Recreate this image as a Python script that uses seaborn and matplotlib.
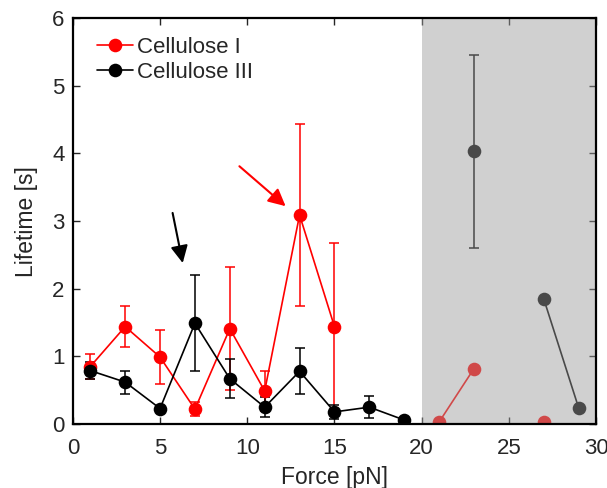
import numpy as np
import pandas as pd
import matplotlib
matplotlib.use("Agg")
import matplotlib.pyplot as plt
import seaborn as sns

# Lifetime vs force, two cellulose allomorphs (NaN = no measurement)
force = [1, 3, 5, 7, 9, 11, 13, 15, 17, 19, 21, 23, 25, 27, 29]
cell1_life = [0.85, 1.44, 0.99, 0.22, 1.41, 0.49, 3.09, 1.44, np.nan, np.nan, 0.03, 0.82, np.nan, 0.03, np.nan]
cell1_err = [0.18, 0.30, 0.40, 0.10, 0.91, 0.30, 1.35, 1.24, np.nan, np.nan, 0.0, 0.0, np.nan, 0.0, np.nan]
cell3_life = [0.79, 0.62, 0.23, 1.49, 0.67, 0.25, 0.78, 0.18, 0.25, 0.06, np.nan, 4.03, np.nan, 1.85, 0.24]
cell3_err = [0.12, 0.17, 0.0, 0.71, 0.29, 0.15, 0.34, 0.10, 0.16, 0.0, np.nan, 1.43, np.nan, 0.0, 0.0]
series_names = ["Cellulose I", "Cellulose III"]
series_colors = ["#ff0000", "#000000"]
shade_start, shade_end = 20, 30

sns.set_style("ticks")
plt.rcParams["font.family"] = ["Liberation Sans", "DejaVu Sans"]

def to_frame(name, life, err):
    rows = []
    seg = 0
    prev_nan = True
    for f, v, e in zip(force, life, err):
        if np.isnan(v):
            prev_nan = True
            continue
        if prev_nan:
            seg += 1
        prev_nan = False
        rows.append(dict(force=f, lifetime=v, err=e, series=name, seg=f"{name}-{seg}"))
    return pd.DataFrame(rows)

df = pd.concat([to_frame(series_names[0], cell1_life, cell1_err),
                to_frame(series_names[1], cell3_life, cell3_err)], ignore_index=True)

fig = plt.figure(figsize=(6.07, 4.88), dpi=100)
ax = fig.add_axes([0.120, 0.131, 0.862, 0.832])

palette = dict(zip(series_names, series_colors))

# error bars first, lines and markers on top
for name in series_names:
    sub = df[(df.series == name) & (df.err > 0)]
    ax.errorbar(sub.force, sub.lifetime, yerr=sub.err, fmt="none",
                ecolor=palette[name], elinewidth=1.1, capsize=3.8, capthick=1.1, zorder=2)

sns.lineplot(data=df, x="force", y="lifetime", hue="series", units="seg",
             estimator=None, palette=palette, marker="o", markersize=9.8,
             markeredgewidth=0, linewidth=1.2, ax=ax, zorder=3, sort=True)

# shaded region of unreliable measurements
ax.axvspan(shade_start, shade_end, facecolor=(0.61, 0.61, 0.61), alpha=0.475,
           edgecolor="none", zorder=5)

# arrows highlighting peaks
ax.annotate("", xy=(12.2, 3.22), xytext=(9.55, 3.81),
            arrowprops=dict(arrowstyle="-|>", color="#ff0000", lw=1.5, mutation_scale=26,
                            shrinkA=0, shrinkB=0))
ax.annotate("", xy=(6.3, 2.38), xytext=(5.72, 3.12),
            arrowprops=dict(arrowstyle="-|>", color="#000000", lw=1.5, mutation_scale=26,
                            shrinkA=0, shrinkB=0))

ax.set_xlim(0, 30)
ax.set_ylim(0, 6)
ax.set_xticks(range(0, 31, 5))
ax.set_yticks(range(0, 7))
ax.set_xlabel("Force [pN]", fontsize=16.5, color="#262626", labelpad=5)
ax.set_ylabel("Lifetime [s]", fontsize=16.5, color="#262626", labelpad=10)
ax.tick_params(axis="both", direction="in", length=5, width=1, top=True, right=True,
               labelsize=16, labelcolor="#262626")
ax.tick_params(axis="x", pad=10)
ax.tick_params(axis="y", pad=6)
for sp in ax.spines.values():
    sp.set_visible(True)
    sp.set_linewidth(1.6)
    sp.set_color("black")
    sp.set_zorder(6)

leg = ax.legend(loc="upper left", frameon=False, fontsize=16, handlelength=1.6,
                handletextpad=0.2, labelspacing=0.16, borderaxespad=0.45,
                bbox_to_anchor=(0.01, 1.0))

fig.savefig("out.png", dpi=100)
